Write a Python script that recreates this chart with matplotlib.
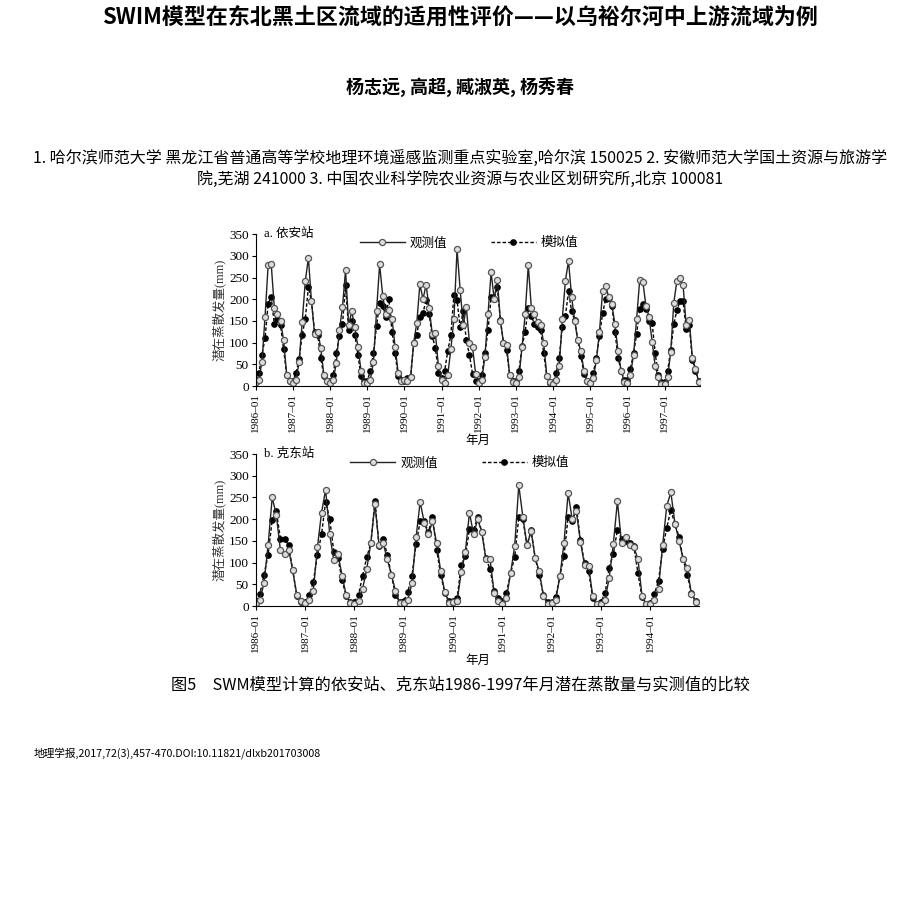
import numpy as np
import matplotlib
matplotlib.use("Agg")
import matplotlib.pyplot as plt

plt.rcParams['font.family'] = ['Noto Sans CJK SC', 'DejaVu Sans']

# 依安站 1986-1997 monthly values (mm)
yian_years = list(range(1986, 1998))
yian_obs = [
    10, 15, 55, 160, 278, 280, 180, 165, 150, 105, 25, 12,
    8, 15, 55, 148, 242, 295, 195, 120, 125, 88, 25, 12,
    8, 15, 52, 128, 182, 267, 140, 172, 135, 90, 35, 8,
    8, 15, 55, 172, 280, 208, 165, 175, 155, 90, 30, 12,
    15, 12, 20, 100, 145, 235, 200, 233, 180, 120, 122, 45,
    15, 8, 25, 85, 155, 315, 222, 140, 182, 100, 90, 28,
    8, 15, 68, 165, 262, 200, 245, 150, 100, 95, 25, 10,
    8, 20, 90, 165, 278, 180, 165, 148, 140, 98, 22, 10,
    5, 15, 45, 155, 243, 288, 205, 150, 105, 80, 35, 12,
    8, 18, 60, 125, 218, 230, 205, 188, 142, 80, 35, 10,
    8, 25, 72, 155, 245, 240, 185, 160, 102, 45, 20, 5,
    5, 20, 78, 192, 242, 250, 232, 140, 152, 65, 40, 10,
]
yian_sim = [
    15, 30, 72, 110, 190, 205, 142, 155, 140, 85, 25, 12,
    12, 30, 62, 118, 155, 228, 195, 125, 118, 65, 22, 12,
    12, 25, 75, 115, 142, 232, 130, 150, 118, 72, 22, 12,
    12, 35, 75, 138, 192, 185, 160, 200, 125, 75, 22, 15,
    12, 18, 20, 100, 118, 160, 168, 198, 165, 115, 88, 30,
    18, 35, 80, 118, 210, 198, 135, 172, 105, 72, 28, 12,
    12, 25, 75, 128, 205, 200, 228, 152, 100, 82, 25, 12,
    12, 35, 92, 125, 180, 162, 142, 135, 130, 75, 22, 8,
    10, 30, 65, 135, 162, 218, 172, 152, 105, 70, 28, 12,
    10, 30, 65, 115, 168, 200, 202, 185, 125, 65, 35, 15,
    15, 40, 75, 120, 178, 190, 178, 150, 145, 75, 25, 10,
    10, 35, 82, 142, 175, 195, 195, 132, 140, 60, 35, 12,
]

# 克东站 1986-1994 monthly values (mm)
kedong_years = list(range(1986, 1995))
kedong_obs = [
    8, 15, 52, 140, 250, 210, 128, 120, 130, 82, 25, 12,
    8, 15, 35, 135, 215, 268, 165, 105, 120, 70, 25, 8,
    5, 12, 40, 85, 145, 235, 140, 145, 108, 72, 35, 8,
    8, 15, 52, 158, 240, 192, 165, 195, 145, 80, 32, 8,
    10, 12, 78, 125, 215, 165, 200, 170, 108, 108, 30, 12,
    5, 18, 75, 138, 278, 205, 140, 172, 110, 80, 22, 5,
    8, 15, 68, 145, 260, 200, 218, 148, 95, 92, 22, 5,
    5, 15, 65, 142, 242, 145, 160, 140, 135, 108, 22, 5,
    5, 15, 40, 140, 230, 262, 190, 150, 108, 88, 28, 10,
]
kedong_sim = [
    12, 28, 72, 118, 198, 218, 155, 155, 140, 82, 22, 10,
    10, 25, 55, 118, 165, 240, 200, 125, 110, 60, 22, 10,
    10, 25, 70, 112, 145, 242, 138, 155, 118, 72, 25, 10,
    12, 32, 70, 142, 195, 196, 170, 205, 130, 72, 30, 12,
    12, 18, 95, 115, 178, 175, 205, 170, 110, 85, 35, 18,
    12, 30, 75, 112, 205, 200, 140, 175, 110, 72, 25, 10,
    10, 20, 70, 115, 205, 195, 228, 152, 98, 80, 18, 5,
    10, 30, 88, 120, 175, 155, 150, 145, 138, 75, 20, 5,
    8, 28, 58, 132, 180, 222, 188, 160, 108, 72, 30, 12,
]

yticks = [0, 50, 100, 150, 200, 250, 300, 350]

fig = plt.figure(figsize=(9.2, 8.99), dpi=100)

# page text
fig.text(0.5, 0.981, "SWIM模型在东北黑土区流域的适用性评价——以乌裕尔河中上游流域为例",
         ha='center', va='center', fontsize=15.8, fontweight='bold')
fig.text(0.5, 0.903, "杨志远, 高超, 臧淑英, 杨秀春",
         ha='center', va='center', fontsize=13, fontweight='bold')
fig.text(0.5, 0.824, "1. 哈尔滨师范大学 黑龙江省普通高等学校地理环境遥感监测重点实验室,哈尔滨 150025 2. 安徽师范大学国土资源与旅游学",
         ha='center', va='center', fontsize=11.5)
fig.text(0.5, 0.800, "院,芜湖 241000 3. 中国农业科学院农业资源与农业区划研究所,北京 100081",
         ha='center', va='center', fontsize=11.5)
fig.text(0.5, 0.238, "图5　SWM模型计算的依安站、克东站1986-1997年月潜在蒸散量与实测值的比较",
         ha='center', va='center', fontsize=11.7)
fig.text(0.036, 0.162, "地理学报,2017,72(3),457-470.DOI:10.11821/dlxb201703008",
         ha='left', va='center', fontsize=7.7)

serif_cjk = ['Liberation Serif', 'Noto Sans CJK SC']


def draw_panel(rect, years, obs, sim, title, xmax, leg_anchor):
    ax = fig.add_axes(rect)
    x = np.arange(len(obs))
    ax.plot(x, sim, linestyle='--', color='black', lw=1.0, marker='o',
            ms=3.8, mfc='black', mec='black', label='模拟值', dashes=(2.5, 1.5))
    ax.plot(x, obs, linestyle='-', color='#222222', lw=1.0, marker='o',
            ms=4.4, mfc='#dddddd', mec='#555555', mew=0.9, label='观测值')
    ax.set_xlim(0, xmax)
    ax.set_ylim(0, 350)
    ax.set_yticks(yticks)
    ax.set_yticklabels([str(v) for v in yticks], family=serif_cjk, fontsize=9.5)
    ax.set_xticks(np.arange(0, len(obs), 12))
    ax.set_xticklabels([f"{y}–01" for y in years], rotation=90,
                       family=serif_cjk, fontsize=8)
    ax.tick_params(axis='both', direction='out', length=3, width=0.8, pad=2)
    for s in ['top', 'right']:
        ax.spines[s].set_visible(False)
    ax.set_ylabel("潜在蒸散发量(mm)", family=serif_cjk, fontsize=9, color='#333333', labelpad=2)
    ax.set_xlabel("年月", family=serif_cjk, fontsize=9, labelpad=2)
    ax.text(0.018, 1.0, title, transform=ax.transAxes, family=serif_cjk,
            fontsize=9, va='center', ha='left')
    handles, labels = ax.get_legend_handles_labels()
    ax.legend(handles[::-1], labels[::-1], ncol=2, loc='center',
              bbox_to_anchor=leg_anchor, frameon=False, handlelength=3.6,
              columnspacing=3.5, handletextpad=0.4, prop={'family': serif_cjk, 'size': 9})
    return ax


draw_panel([0.278, 0.5706, 0.483, 0.169], yian_years, yian_obs, yian_sim,
           "a. 依安站", 143.5, (0.48, 0.94))
draw_panel([0.278, 0.3259, 0.482, 0.169], kedong_years, kedong_obs, kedong_sim,
           "b. 克东站", 107.9, (0.46, 0.94))

fig.savefig("out.png", dpi=100)
